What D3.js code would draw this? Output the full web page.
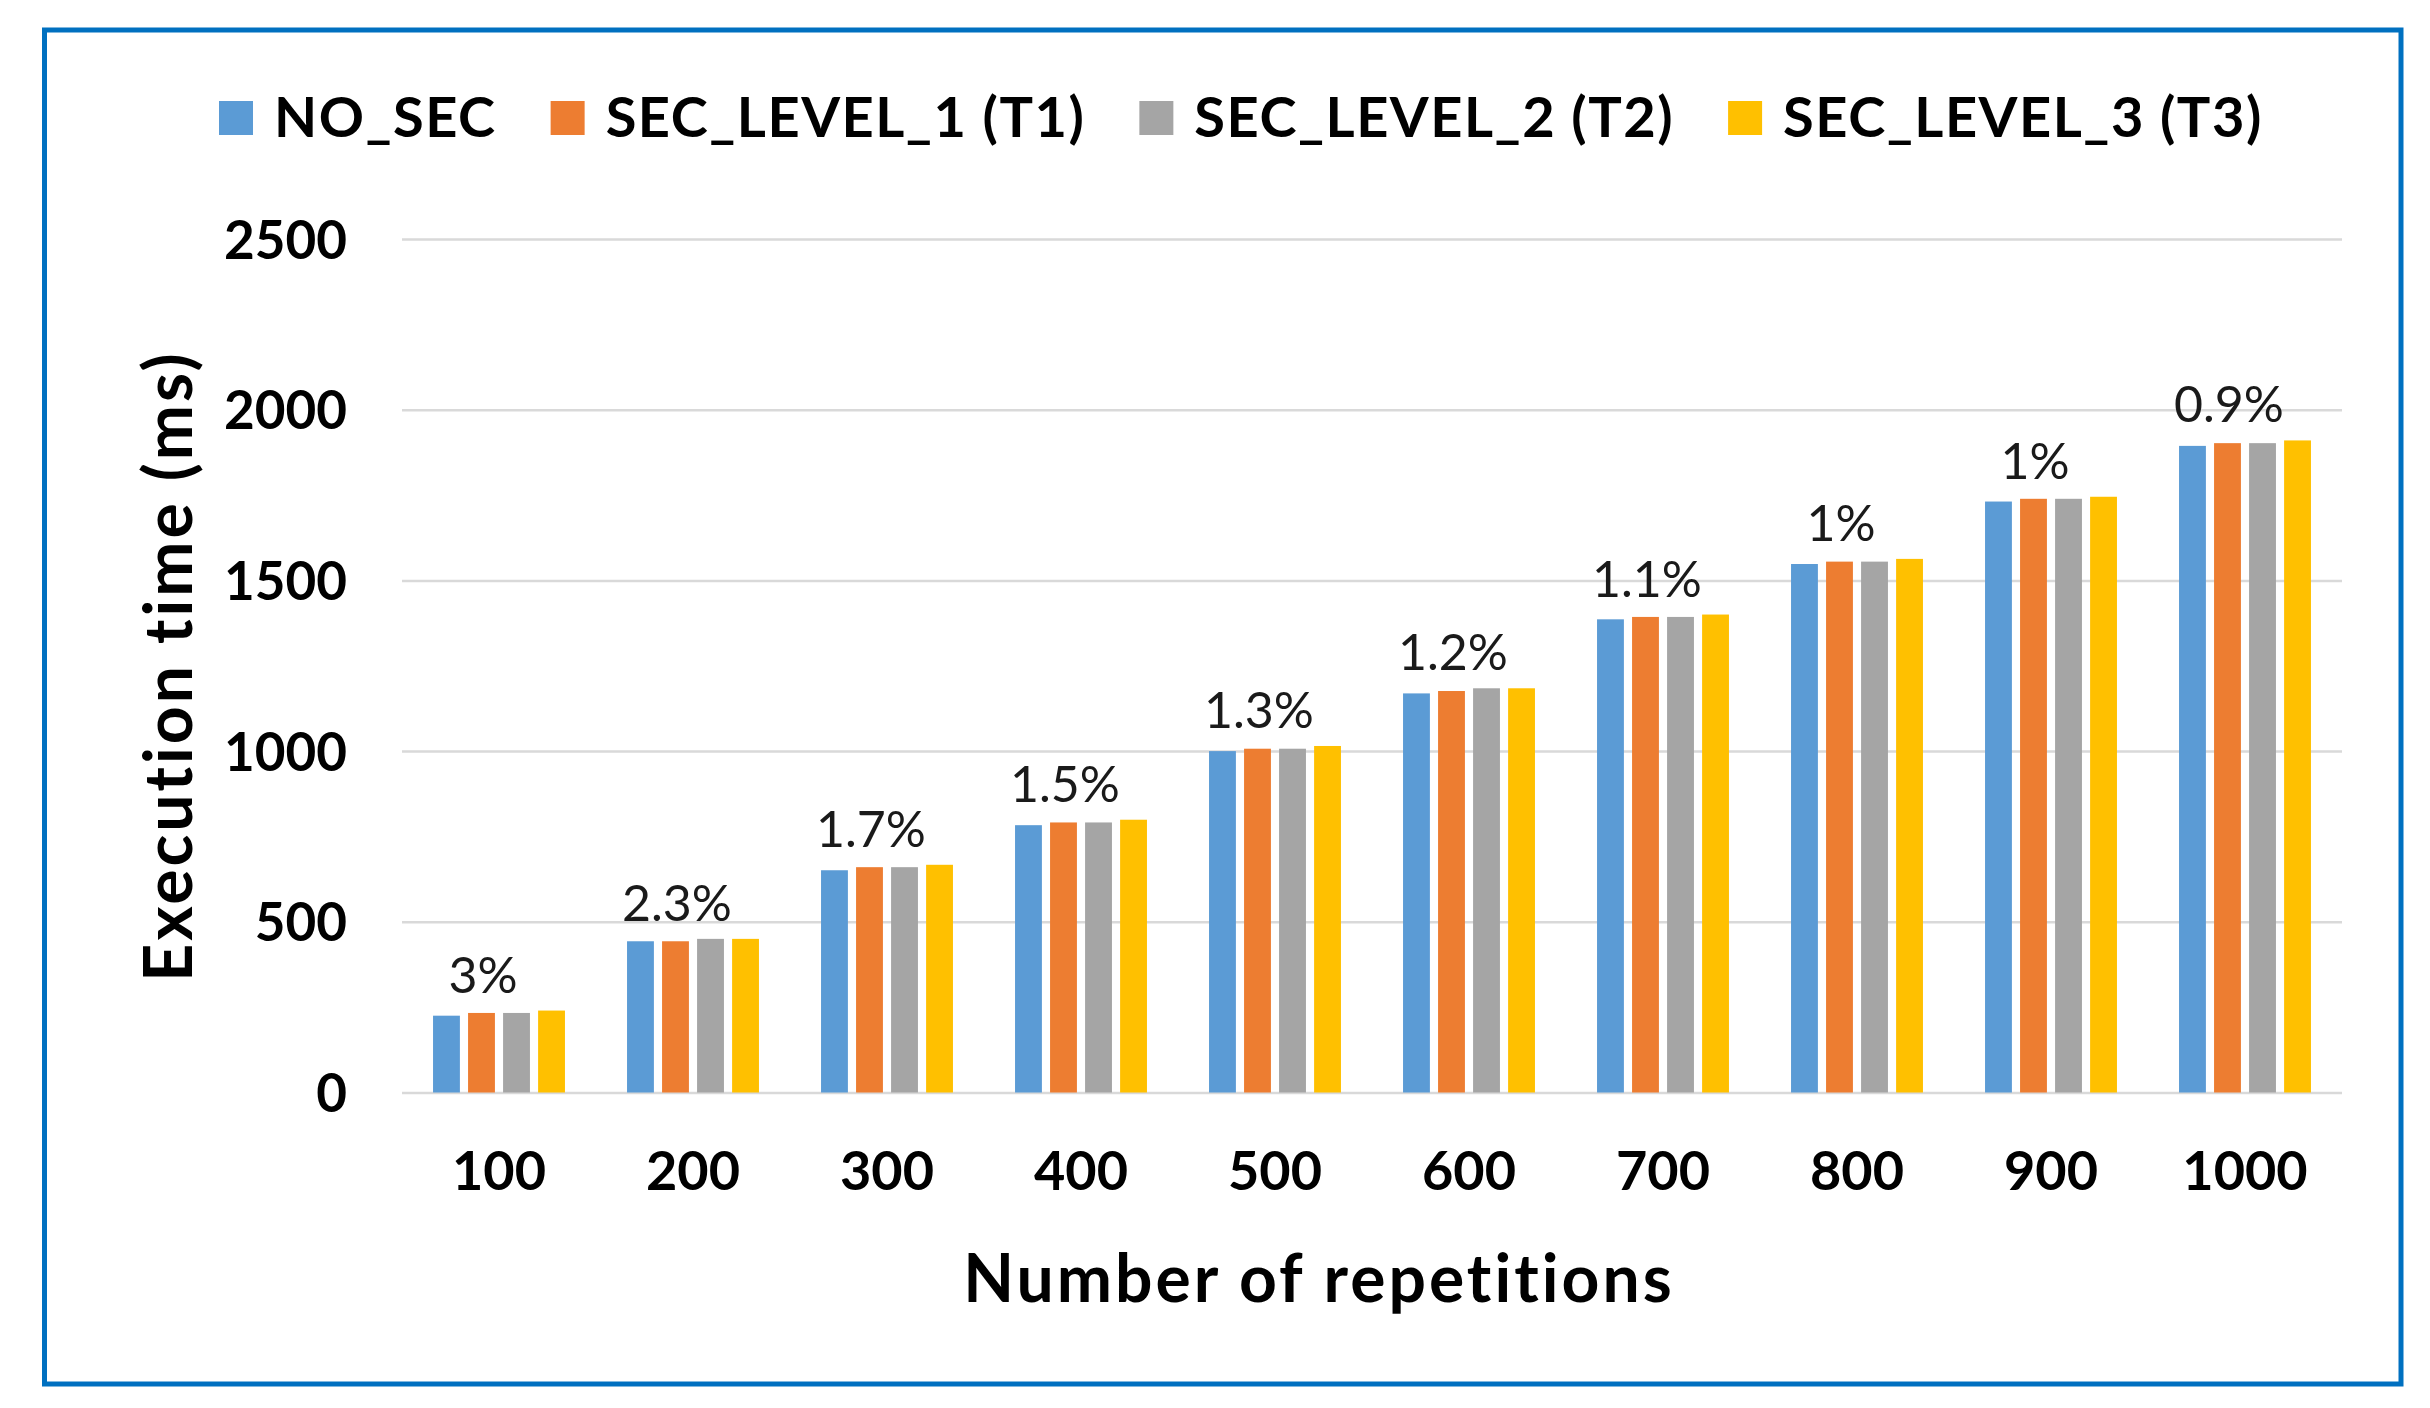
<!DOCTYPE html>
<html>
<head>
<meta charset="utf-8">
<script src="https://cdn.jsdelivr.net/npm/d3@7"></script>
<style>
  body { margin: 0; background: #fff; }
  text { font-family: Lato, 'Open Sans', sans-serif; fill: #000; }
</style>
</head>
<body>
<svg id="canvas"></svg>
<script>
var width = 2430,
  height = 1408,
  margin = {top: 239, right: 2430 - 2342, bottom: 1408 - 1092.5, left: 402};

// data
var categories = ['100', '200', '300', '400', '500', '600', '700', '800', '900', '1000'];
var seriesNames = ['NO_SEC', 'SEC_LEVEL_1 (T1)', 'SEC_LEVEL_2 (T2)', 'SEC_LEVEL_3 (T3)'];
var noSec     = [225, 443, 651, 783, 1000, 1169, 1386, 1548, 1731, 1894];
var secLevel1 = [233, 443, 660, 791, 1007, 1176, 1393, 1555, 1739, 1902];
var secLevel2 = [233, 450, 660, 791, 1007, 1184, 1393, 1555, 1739, 1902];
var secLevel3 = [240, 450, 667, 799, 1015, 1184, 1400, 1563, 1745, 1910];
var overheadLabels = ['3%', '2.3%', '1.7%', '1.5%', '1.3%', '1.2%', '1.1%', '1%', '1%', '0.9%'];
var yTicks = [0, 500, 1000, 1500, 2000, 2500];
var colors = ['#5B9BD5', '#ED7D31', '#A5A5A5', '#FFC000'];

function draw() {
  var series = [noSec, secLevel1, secLevel2, secLevel3],
      innerW = width - margin.left - margin.right,
      innerH = height - margin.top - margin.bottom,
      svg, plot, x0, x1, y, groups, legend, lx;

  svg = d3.select('#canvas')
    .attr('width', width)
    .attr('height', height);

  // outer blue frame
  svg.append('rect')
    .attr('x', 44.5)
    .attr('y', 30)
    .attr('width', 2401 - 44.5)
    .attr('height', 1384 - 30)
    .style('fill', 'none')
    .style('stroke', '#0070C0')
    .style('stroke-width', 5);

  x0 = d3.scaleBand()
    .domain(categories)
    .range([0, innerW])
    .paddingInner(0.32)
    .paddingOuter(0.16);

  x1 = d3.scaleBand()
    .domain(d3.range(series.length))
    .range([0, x0.bandwidth()])
    .paddingInner(0.233);

  y = d3.scaleLinear()
    .domain([0, 2500])
    .range([innerH, 0]);

  plot = svg.append('g')
    .attr('transform', 'translate(' + margin.left + ',' + margin.top + ')');

  // GRID + Y LABELS
  var yAxis = plot.append('g')
    .call(d3.axisLeft(y)
      .tickValues(yTicks)
      .tickFormat(d3.format('d'))
      .tickSize(-innerW)
      .tickPadding(55));
  yAxis.select('.domain').remove();
  yAxis.selectAll('line')
    .style('stroke', '#D9D9D9')
    .style('stroke-width', 2.5);
  yAxis.selectAll('text')
    .style('font-size', '53px')
    .style('font-weight', 700)
    .attr('dy', '0.36em');

  // X LABELS
  var xAxis = plot.append('g')
    .attr('transform', 'translate(0,' + innerH + ')')
    .call(d3.axisBottom(x0).tickSize(0));
  xAxis.select('.domain').remove();
  xAxis.selectAll('text')
    .attr('y', 97)
    .attr('dy', 0)
    .style('font-size', '54px')
    .style('font-weight', 700);

  // BARS
  groups = plot.selectAll('g.group')
    .data(categories)
    .enter()
    .append('g')
    .attr('class', 'group')
    .attr('transform', function(d) { return 'translate(' + x0(d) + ',0)'; });

  groups.selectAll('rect')
    .data(function(d, i) {
      return series.map(function(s, k) { return {k: k, v: s[i]}; });
    })
    .enter()
    .append('rect')
    .attr('x', function(d) { return x1(d.k); })
    .attr('width', x1.bandwidth())
    .attr('y', function(d) { return y(d.v); })
    .attr('height', function(d) { return innerH - y(d.v); })
    .style('fill', function(d) { return colors[d.k]; });

  // OVERHEAD LABELS
  groups.append('text')
    .attr('x', x0.bandwidth() / 2 - 16)
    .attr('y', function(d, i) {
      return y(d3.max(series, function(s) { return s[i]; })) - 18;
    })
    .attr('text-anchor', 'middle')
    .style('font-size', '50px')
    .style('fill', '#1a1a1a')
    .text(function(d, i) { return overheadLabels[i]; });

  // AXIS TITLES
  svg.append('text')
    .attr('transform', 'translate(192,666) rotate(-90)')
    .attr('text-anchor', 'middle')
    .style('font-size', '66px')
    .style('font-weight', 700)
    .style('letter-spacing', '3px')
    .text('Execution time (ms)');

  svg.append('text')
    .attr('x', 1319)
    .attr('y', 1302)
    .attr('text-anchor', 'middle')
    .style('font-size', '66px')
    .style('font-weight', 700)
    .style('letter-spacing', '3px')
    .text('Number of repetitions');

  // LEGEND
  legend = svg.append('g').attr('class', 'legend');
  lx = 219;
  seriesNames.forEach(function(name, k) {
    legend.append('rect')
      .attr('x', lx)
      .attr('y', 101)
      .attr('width', 34)
      .attr('height', 34)
      .style('fill', colors[k]);
    var t = legend.append('text')
      .attr('x', lx + 55)
      .attr('y', 136.5)
      .style('font-size', '56px')
      .style('font-weight', 700)
      .style('letter-spacing', '1.5px')
      .text(name);
    lx = lx + 55 + t.node().getComputedTextLength() + 54;
  });
}

window.onload = draw;
</script>
</body>
</html>
